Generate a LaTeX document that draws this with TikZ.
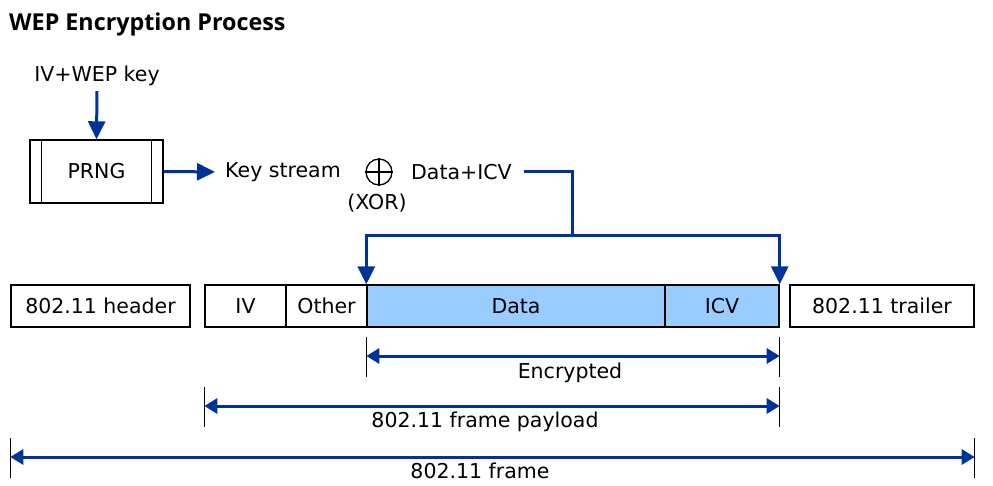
\documentclass[tikz,border=0pt]{standalone}
\usepackage{fontspec}
\setmainfont{DejaVu Sans}
\newfontfamily\titlefont{Open Sans}
\usetikzlibrary{arrows.meta}
\definecolor{wepblue}{RGB}{0,51,153}
\definecolor{encfill}{RGB}{153,204,255}
\begin{document}
\begin{tikzpicture}[x=1pt,y=-1pt,
  every node/.style={font=\fontsize{20.5}{24}\selectfont, inner sep=0pt},
  cell/.style={draw=black, line width=1.4pt, minimum height=42pt, anchor=center},
  enc/.style={cell, fill=encfill},
  flow/.style={draw=wepblue, line width=3pt, -{Triangle[length=18pt,width=17pt]}},
  dimarrow/.style={draw=wepblue, line width=3pt, {Triangle[length=13pt,width=15pt]}-{Triangle[length=13pt,width=15pt]}},
  tickline/.style={draw=black, line width=1.1pt}]
\useasboundingbox (0,0) rectangle (993,486);
\node[anchor=west, font=\titlefont\bfseries\fontsize{23.3}{27}\selectfont] (title) at (9,24) {WEP Encryption Process};
\node (key) at (97,76) {IV+WEP key};
\node[cell, minimum width=133pt, minimum height=63pt] (prng) at (96.5,171.5) {PRNG};
\draw[line width=1.4pt] ([xshift=12pt]prng.north west) -- ([xshift=12pt]prng.south west);
\draw[line width=1.4pt] ([xshift=-12pt]prng.north east) -- ([xshift=-12pt]prng.south east);
\draw[flow] ([yshift=-5pt]key.south) -- (prng.north);
\node[anchor=west] (ks) at (225,172) {Key stream};
\draw[flow, shorten >=10pt] (prng.east) -- (ks.west);
\node[circle, draw=black, line width=1.3pt, minimum size=26pt] (xor) at (379,172) {};
\draw[line width=1.3pt] (xor.north) -- (xor.south);
\draw[line width=1.3pt] (xor.west) -- (xor.east);
\node (xorlbl) at (377,203) {(XOR)};
\node[anchor=west] (dicv) at (411,172) {Data+ICV};
% frame row
\node[cell, minimum width=179pt] (hdr) at (100.5,306) {802.11 header};
\node[cell, minimum width=81pt] (iv) at (245.5,306) {IV};
\node[cell, minimum width=81pt] (other) at (326.5,306) {Other};
\node[enc, minimum width=298pt] (data) at (516,306) {Data};
\node[enc, minimum width=114pt] (icv) at (722,306) {ICV};
\node[cell, minimum width=184pt] (trl) at (882,306) {802.11 trailer};
% flow to data
\coordinate (split) at (572,236);
\draw[draw=wepblue, line width=3pt] ([xshift=12pt]dicv.east) -| (split);
\draw[flow] (split) -| (data.north west);
\draw[flow] (split) -| (icv.north east);
% dimension lines
\coordinate (encL) at (data.west |- 0,356);
\coordinate (encR) at (icv.east |- 0,356);
\coordinate (payL) at (iv.west |- 0,406);
\coordinate (payR) at (icv.east |- 0,406);
\coordinate (frmL) at (hdr.west |- 0,457);
\coordinate (frmR) at (trl.east |- 0,457);
\foreach \c in {encL,encR,payL,payR,frmL,frmR}{
  \draw[tickline] ([yshift=19pt]\c) -- ([yshift=-21pt]\c);
}
\draw[dimarrow] (encL) -- (encR);
\draw[dimarrow] (payL) -- (payR);
\draw[dimarrow] (frmL) -- (frmR);
\node (enclbl) at (570,373) {Encrypted};
\node (paylbl) at (485,422) {802.11 frame payload};
\node (frmlbl) at (480,471) {802.11 frame};
\end{tikzpicture}
\end{document}
